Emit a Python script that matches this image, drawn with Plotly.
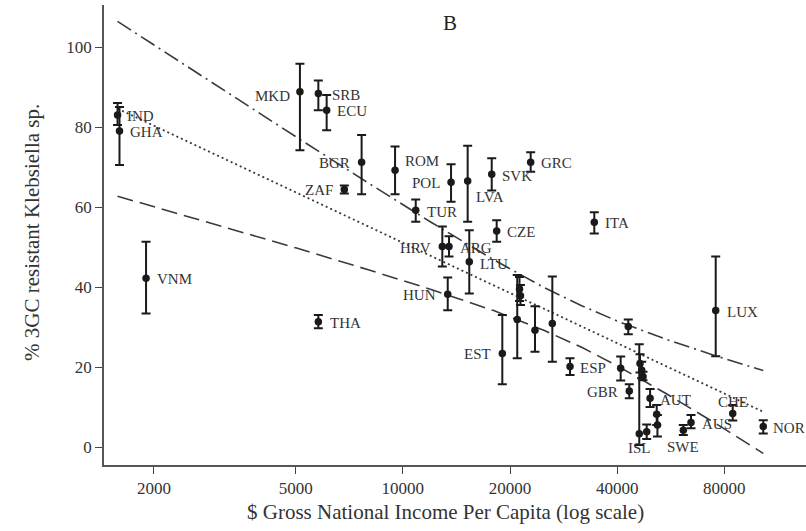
import math
import plotly.graph_objects as go

# ---------------- data ----------------
codes = ["IND", "GHA", "VNM", "THA", "MKD", "SRB", "ECU", "BGR", "ZAF", "ROM",
         "POL", "LVA", "SVK", "GRC", "TUR", "CZE", "ITA", "HRV", "ARG", "LTU",
         "HUN", "EST", "", "", "", "", "", "ESP", "", "",
         "GBR", "", "", "", "AUT", "", "", "", "ISL", "SWE",
         "AUS", "CHE", "NOR", "LUX"]
gni = [1580, 1600, 1900, 5790, 5140, 5790, 6110, 7660, 6850, 9510,
       13660, 15210, 17770, 22860, 10870, 18350, 34500, 12910, 13480, 15370,
       13370, 19030, 20960, 21270, 21400, 23510, 26300, 29490, 42980, 40920,
       43260, 46370, 46890, 47280, 49490, 51660, 51900, 48420, 46150, 61360,
       64490, 84460, 102900, 75660]
pct = [83.0, 79.0, 42.2, 31.3, 88.8, 88.4, 84.2, 71.2, 64.4, 69.2,
       66.2, 66.5, 68.2, 71.2, 59.2, 54.0, 56.2, 50.1, 50.1, 46.3,
       38.2, 23.4, 31.9, 39.5, 37.8, 29.2, 30.9, 20.1, 30.1, 19.7,
       14.0, 20.9, 19.2, 17.6, 12.2, 8.2, 5.5, 3.8, 3.3, 4.2,
       6.1, 8.4, 5.1, 34.1]
ci_low = [80.5, 70.5, 33.4, 29.7, 74.2, 84.2, 79.2, 63.2, 63.4, 63.2,
          61.3, 56.3, 64.1, 68.8, 56.3, 51.3, 53.4, 45.1, 47.6, 38.4,
          34.2, 15.7, 22.2, 36.5, 35.5, 23.8, 21.3, 18.0, 28.2, 16.6,
          12.2, 18.6, 17.2, 16.7, 10.0, 5.5, 2.6, 2.0, 0.5, 3.0,
          4.7, 6.6, 3.4, 22.7]
ci_high = [86.0, 85.0, 51.3, 33.0, 95.8, 91.6, 88.0, 78.0, 65.4, 75.1,
           70.7, 75.3, 72.2, 73.7, 61.9, 56.7, 58.7, 55.1, 52.7, 54.2,
           42.4, 33.0, 43.0, 42.5, 40.5, 35.2, 42.6, 22.2, 31.9, 22.6,
           15.7, 23.2, 21.3, 18.8, 14.5, 10.5, 8.0, 5.6, 25.7, 5.5,
           8.0, 10.5, 6.7, 47.6]

# fitted line and its confidence band, read at sample incomes
fit_gni = [1580, 2000, 3000, 5000, 8000, 12000, 18000, 25000, 32000, 40000, 55000, 75000, 102900]
fit_mid = [84.6, 80.3, 72.9, 63.7, 55.1, 47.8, 40.4, 34.5, 30.0, 25.9, 20.1, 14.5, 8.8]
fit_upper = [106.4, 100.5, 90.3, 77.6, 66.0, 56.2, 46.8, 39.8, 35.2, 31.5, 26.9, 22.9, 19.1]
fit_lower = [62.7, 60.1, 55.6, 49.8, 44.3, 39.4, 34.1, 29.1, 24.8, 20.3, 13.3, 6.1, -1.6]

x_tick_vals = [2000, 5000, 10000, 20000, 40000, 80000]
x_tick_text = ["2000", "5000", "10000", "20000", "40000", "80000"]
y_tick_vals = [0, 20, 40, 60, 80, 100]
y_tick_text = ["0", "20", "40", "60", "80", "100"]

# ---------------- label placement (side, dx px, dy px down) ----------------
label_place = {
    "IND": ("r", 7, 1), "GHA": ("r", 9, 1), "VNM": ("r", 9, 1), "THA": ("r", 10, 1),
    "MKD": ("l", -8, 4), "SRB": ("r", 12, 2), "ECU": ("r", 8, 1), "BGR": ("l", -10, 1),
    "ZAF": ("l", -9, 1), "ROM": ("r", 8, -9), "POL": ("l", -9, 1), "LVA": ("r", 6, 16),
    "SVK": ("r", 8, 2), "GRC": ("r", 8, 1), "TUR": ("r", 9, 2), "CZE": ("r", 8, 1),
    "ITA": ("r", 9, 1), "HRV": ("l", -9, 1), "ARG": ("r", 9, 1), "LTU": ("r", 9, 2),
    "HUN": ("l", -10, 1), "EST": ("l", -9, 1), "ESP": ("r", 8, 1), "GBR": ("l", -9, 1),
    "AUT": ("r", 8, 2), "ISL": ("b", 0, 14), "SWE": ("b", 0, 17), "AUS": ("r", 9, 1),
    "CHE": ("t", 0, -11), "NOR": ("r", 8, 1), "LUX": ("r", 9, 1),
}

SERIF = "Liberation Serif, Times New Roman, serif"
INK = "#1a1a1a"

fig = go.Figure()

# confidence band and fit lines
fig.add_trace(go.Scatter(x=fit_gni, y=fit_upper, mode="lines",
                         line=dict(color="#3a3a3a", width=1.6, dash="16px,5px,2px,5px"),
                         hoverinfo="skip", showlegend=False))
fig.add_trace(go.Scatter(x=fit_gni, y=fit_mid, mode="lines",
                         line=dict(color="#3a3a3a", width=1.8, dash="2px,3px"),
                         hoverinfo="skip", showlegend=False))
fig.add_trace(go.Scatter(x=fit_gni, y=fit_lower, mode="lines",
                         line=dict(color="#3a3a3a", width=1.6, dash="16px,7px"),
                         hoverinfo="skip", showlegend=False))

# points with error bars
err_plus = [h - p for h, p in zip(ci_high, pct)]
err_minus = [p - l for p, l in zip(pct, ci_low)]
fig.add_trace(go.Scatter(
    x=gni, y=pct, mode="markers",
    marker=dict(symbol="circle", size=7.5, color=INK),
    error_y=dict(type="data", symmetric=False, array=err_plus, arrayminus=err_minus,
                 color=INK, thickness=2, width=4.5),
    text=codes, showlegend=False))

# country labels
for code, g, p in zip(codes, gni, pct):
    if not code:
        continue
    side, dx, dy = label_place[code]
    xanchor = {"r": "left", "l": "right", "b": "center", "t": "center"}[side]
    fig.add_annotation(x=math.log10(g), y=p, xref="x", yref="y", text=code,
                       showarrow=False, xanchor=xanchor, yanchor="middle",
                       xshift=dx, yshift=-dy,
                       font=dict(family=SERIF, size=15, color="#333333"))

# panel letter and axis titles (paper coords of a 702 x 460 plot area)
fig.add_annotation(x=0.4929, y=0.961, xref="paper", yref="paper", text="B",
                   showarrow=False, xanchor="center", yanchor="middle",
                   font=dict(family=SERIF, size=21, color="#222222"))
fig.add_annotation(x=0.4858, y=-0.102, xref="paper", yref="paper",
                   text="$ Gross National Income Per Capita (log scale)",
                   showarrow=False, xanchor="center", yanchor="middle",
                   font=dict(family=SERIF, size=21, color="#333333"))
fig.add_annotation(x=-0.1026, y=0.5065, xref="paper", yref="paper",
                   text="% 3GC resistant Klebsiella sp.", textangle=-90,
                   showarrow=False, xanchor="center", yanchor="middle",
                   font=dict(family=SERIF, size=21, color="#333333"))

fig.update_layout(
    width=806, height=531,
    margin=dict(l=104, r=0, t=5, b=66),
    paper_bgcolor="white", plot_bgcolor="white",
    showlegend=False,
    xaxis=dict(type="log", range=[3.1606, 5.1325],
               tickmode="array", tickvals=x_tick_vals, ticktext=x_tick_text,
               ticks="outside", ticklen=7, tickwidth=1.2, tickcolor="#444",
               showline=True, linecolor="#555", linewidth=1.5, mirror=False,
               showgrid=False, zeroline=False,
               tickfont=dict(family=SERIF, size=17, color="#333333")),
    yaxis=dict(range=[-4.5, 110.5],
               tickmode="array", tickvals=y_tick_vals, ticktext=y_tick_text,
               ticks="outside", ticklen=7, tickwidth=1.2, tickcolor="#444",
               showline=True, linecolor="#555", linewidth=1.5, mirror=False,
               showgrid=False, zeroline=False,
               tickfont=dict(family=SERIF, size=17, color="#333333")),
)

# the page's default body margin would shift the 806x531 figure; remove it
fig.write_html("out.html",
               config={"displayModeBar": False},
               post_script="document.body.style.margin='0';"
                           "document.body.style.overflow='hidden';")
